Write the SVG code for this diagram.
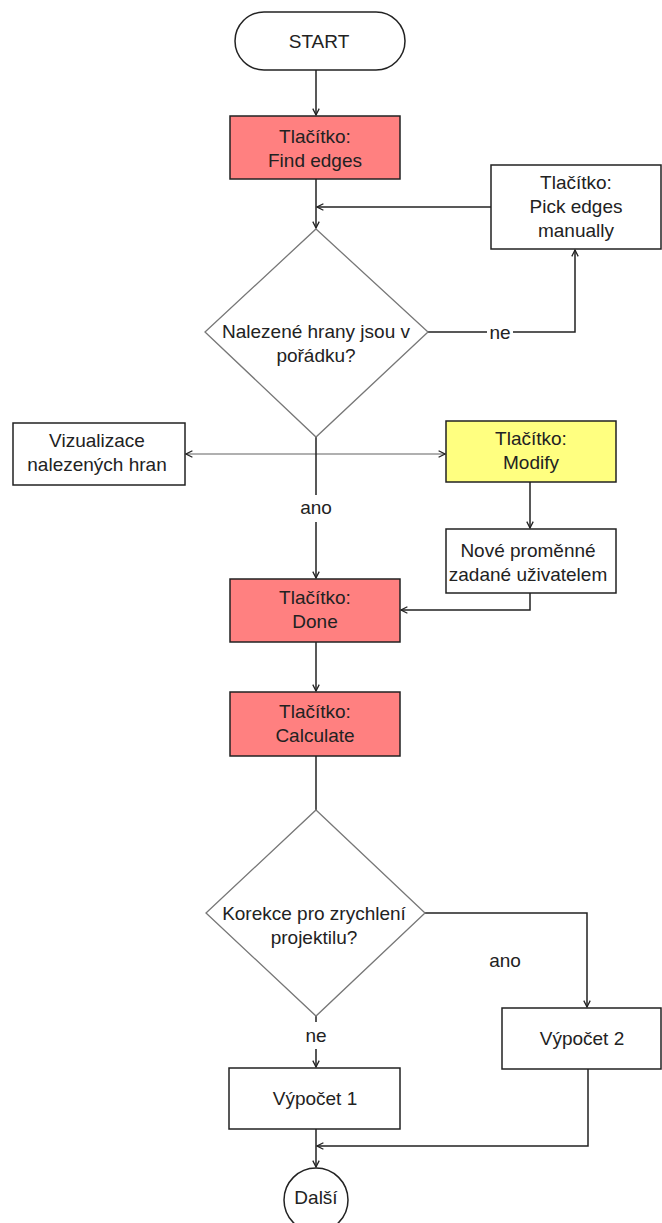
<svg xmlns="http://www.w3.org/2000/svg" width="662" height="1223" viewBox="0 0 662 1223">
<defs>
<style>
.b{fill:#fff;stroke:#222;stroke-width:1.5}
.r{fill:#FF8080;stroke:#222;stroke-width:1.5}
.y{fill:#FFFF80;stroke:#222;stroke-width:1.5}
.d{fill:#fff;stroke:#777;stroke-width:1.3}
.c{fill:none;stroke:#222;stroke-width:1.5}
.g{fill:none;stroke:#b0b0b0;stroke-width:2}
text{font-family:"Liberation Sans",Arial,sans-serif;font-size:19px;fill:#222;text-anchor:middle}
</style>
<marker id="a" viewBox="0 0 10 10" refX="9" refY="5" markerWidth="8" markerHeight="8" markerUnits="userSpaceOnUse" orient="auto">
<path d="M1,1 L9,5 L1,9" fill="none" stroke="#222" stroke-width="1.6"/>
</marker>
</defs>
<g id="connectors">
<path class="c" d="M316,70 V115" marker-end="url(#a)"/>
<path class="c" d="M316,179 V228" marker-end="url(#a)"/>
<path class="c" d="M491,207 H317" marker-end="url(#a)"/>
<path class="c" d="M428,332 H487 M513,332 H575 V250" marker-end="url(#a)"/>
<path class="g" d="M316,454 H186" marker-end="url(#a)"/>
<path class="g" d="M316,454 H445" marker-end="url(#a)"/>
<path class="c" d="M316,437 V495 M316,522 V578" marker-end="url(#a)"/>
<path class="c" d="M530,482 V528" marker-end="url(#a)"/>
<path class="c" d="M530,593 V610 H401" marker-end="url(#a)"/>
<path class="c" d="M316,642 V691" marker-end="url(#a)"/>
<path class="c" d="M316,756 V810"/>
<path class="c" d="M425,913 H587 V1007" marker-end="url(#a)"/>
<path class="c" d="M316,1016 V1022 M316,1049 V1067" marker-end="url(#a)"/>
<path class="c" d="M588,1069 V1146 H317" marker-end="url(#a)"/>
<path class="c" d="M316,1129 V1167" marker-end="url(#a)"/>
<text x="500" y="339">ne</text>
<text x="316" y="514">ano</text>
<text x="505" y="967">ano</text>
<text x="316" y="1042">ne</text>
</g>
<g id="start">
<rect class="b" x="235" y="12" width="170" height="58" rx="29"/>
<text x="319" y="48">START</text>
</g>
<g id="find">
<rect class="r" x="230" y="116" width="170" height="63"/>
<text x="315" y="143">Tlačítko:</text>
<text x="315" y="167">Find edges</text>
</g>
<g id="pick">
<rect class="b" x="491" y="165" width="170" height="84"/>
<text x="576" y="189">Tlačítko:</text>
<text x="576" y="213">Pick edges</text>
<text x="576" y="237">manually</text>
</g>
<g id="dec1">
<path class="d" d="M316,229 L428,332 L316,437 L205,332 Z"/>
<text x="316" y="338">Nalezené hrany jsou v</text>
<text x="316" y="362">pořádku?</text>
</g>
<g id="viz">
<rect class="b" x="13" y="423" width="172" height="62"/>
<text x="97" y="447">Vizualizace</text>
<text x="97" y="471">nalezených hran</text>
</g>
<g id="modify">
<rect class="y" x="446" y="421" width="170" height="61"/>
<text x="531" y="445">Tlačítko:</text>
<text x="531" y="469">Modify</text>
</g>
<g id="nove">
<rect class="b" x="446" y="529" width="170" height="64"/>
<text x="528" y="557">Nové proměnné</text>
<text x="528" y="581">zadané uživatelem</text>
</g>
<g id="done">
<rect class="r" x="230" y="579" width="170" height="63"/>
<text x="315" y="604">Tlačítko:</text>
<text x="315" y="628">Done</text>
</g>
<g id="calc">
<rect class="r" x="230" y="692" width="170" height="64"/>
<text x="315" y="718">Tlačítko:</text>
<text x="315" y="742">Calculate</text>
</g>
<g id="dec2">
<path class="d" d="M316,810 L425,913 L316,1016 L206,913 Z"/>
<text x="314" y="920">Korekce pro zrychlení</text>
<text x="314" y="944">projektilu?</text>
</g>
<g id="vyp2">
<rect class="b" x="502" y="1008" width="159" height="61"/>
<text x="582" y="1045">Výpočet 2</text>
</g>
<g id="vyp1">
<rect class="b" x="229" y="1068" width="171" height="61"/>
<text x="315" y="1105">Výpočet 1</text>
</g>
<g id="dalsi">
<circle class="b" cx="316" cy="1200" r="32"/>
<text x="316" y="1204">Další</text>
</g>
</svg>
